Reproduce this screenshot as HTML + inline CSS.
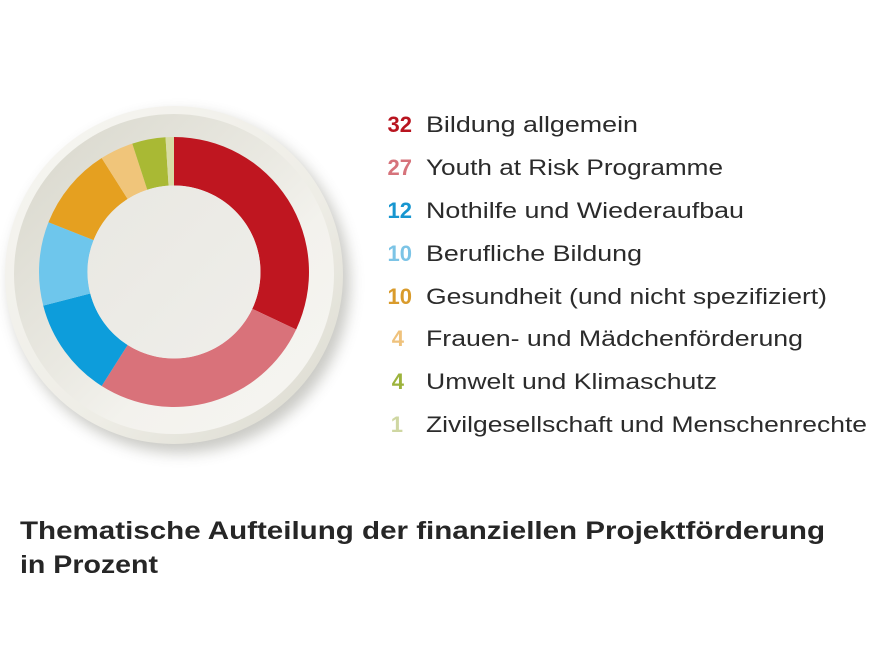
<!DOCTYPE html>
<html>
<head>
<meta charset="utf-8">
<style>
html,body{margin:0;padding:0;background:#ffffff;}
svg{display:block;}
text{font-family:"Liberation Sans","DejaVu Sans",sans-serif;}
</style>
</head>
<body>
<svg width="888" height="666" viewBox="0 0 888 666" xmlns="http://www.w3.org/2000/svg">
  <defs>
    <filter id="sh" x="-20%" y="-20%" width="140%" height="140%">
      <feGaussianBlur stdDeviation="7"/>
    </filter>
    <linearGradient id="rim" x1="0" y1="0" x2="1" y2="1">
      <stop offset="0" stop-color="#f7f6f2"/>
      <stop offset="0.6" stop-color="#eeede6"/>
      <stop offset="1" stop-color="#d9d8cd"/>
    </linearGradient>
    <linearGradient id="well" x1="0.15" y1="0.15" x2="0.85" y2="0.85">
      <stop offset="0" stop-color="#dddcd2"/>
      <stop offset="0.45" stop-color="#eae9e2"/>
      <stop offset="0.7" stop-color="#f3f2ed"/>
      <stop offset="1" stop-color="#f5f4f0"/>
    </linearGradient>
    <linearGradient id="hole" x1="0" y1="0" x2="1" y2="1">
      <stop offset="0" stop-color="#e9e8e2"/>
      <stop offset="1" stop-color="#efeeea"/>
    </linearGradient>
  </defs>

  <!-- plate shadow -->
  <circle cx="180" cy="283" r="170" fill="#8a8a80" opacity="0.45" filter="url(#sh)"/>
  <!-- plate -->
  <circle cx="174" cy="275" r="169" fill="url(#rim)"/>
  <circle cx="174" cy="274" r="160" fill="url(#well)"/>

  <!-- donut segments -->
  <path d="M174,137 A135,135 0 0 1 296.15,329.48 L252.27,308.83 A86.5,86.5 0 0 0 174,185.5 Z" fill="#bf1620"/>
  <path d="M296.15,329.48 A135,135 0 0 1 101.67,385.98 L127.65,345.03 A86.5,86.5 0 0 0 252.27,308.83 Z" fill="#d9727a"/>
  <path d="M101.67,385.98 A135,135 0 0 1 43.24,305.57 L90.22,293.51 A86.5,86.5 0 0 0 127.65,345.03 Z" fill="#0d9ddb"/>
  <path d="M43.24,305.57 A135,135 0 0 1 48.48,222.31 L93.57,240.16 A86.5,86.5 0 0 0 90.22,293.51 Z" fill="#6ec6ec"/>
  <path d="M48.48,222.31 A135,135 0 0 1 101.67,158.02 L127.65,198.97 A86.5,86.5 0 0 0 93.57,240.16 Z" fill="#e5a020"/>
  <path d="M101.67,158.02 A135,135 0 0 1 132.28,143.60 L147.27,189.73 A86.5,86.5 0 0 0 127.65,198.97 Z" fill="#f0c57a"/>
  <path d="M132.28,143.60 A135,135 0 0 1 165.52,137.27 L168.57,185.67 A86.5,86.5 0 0 0 147.27,189.73 Z" fill="#a9b934"/>
  <path d="M165.52,137.27 A135,135 0 0 1 174,137 L174,185.5 A86.5,86.5 0 0 0 168.57,185.67 Z" fill="#d8dca6"/>
  <!-- hole -->
  <circle cx="174" cy="272" r="86.5" fill="url(#hole)"/>

  <!-- legend -->
  <g font-size="22" font-weight="bold" text-anchor="end">
    <text x="412" y="132" fill="#b8141f">32</text>
    <text x="412" y="175" fill="#d6737b">27</text>
    <text x="412" y="218" fill="#1796d0">12</text>
    <text x="412" y="261" fill="#7cc4e6">10</text>
    <text x="412" y="304" fill="#d99b2c">10</text>
    <text x="404" y="346" fill="#efc27c">4</text>
    <text x="404" y="389" fill="#9cb33c">4</text>
    <text x="403" y="432" fill="#cfd7a2">1</text>
  </g>
  <g font-size="22" fill="#2b2b2b">
    <text x="426" y="132" textLength="212" lengthAdjust="spacingAndGlyphs">Bildung allgemein</text>
    <text x="426" y="175" textLength="297" lengthAdjust="spacingAndGlyphs">Youth at Risk Programme</text>
    <text x="426" y="218" textLength="318" lengthAdjust="spacingAndGlyphs">Nothilfe und Wiederaufbau</text>
    <text x="426" y="261" textLength="216" lengthAdjust="spacingAndGlyphs">Berufliche Bildung</text>
    <text x="426" y="304" textLength="401" lengthAdjust="spacingAndGlyphs">Gesundheit (und nicht spezifiziert)</text>
    <text x="426" y="346" textLength="377" lengthAdjust="spacingAndGlyphs">Frauen- und Mädchenförderung</text>
    <text x="426" y="389" textLength="291" lengthAdjust="spacingAndGlyphs">Umwelt und Klimaschutz</text>
    <text x="426" y="432" textLength="441" lengthAdjust="spacingAndGlyphs">Zivilgesellschaft und Menschenrechte</text>
  </g>

  <!-- title -->
  <g font-size="25" font-weight="bold" fill="#262626">
    <text x="20" y="539" textLength="805" lengthAdjust="spacingAndGlyphs">Thematische Aufteilung der finanziellen Projektförderung</text>
    <text x="20" y="573" textLength="138" lengthAdjust="spacingAndGlyphs">in Prozent</text>
  </g>
</svg>
</body>
</html>
